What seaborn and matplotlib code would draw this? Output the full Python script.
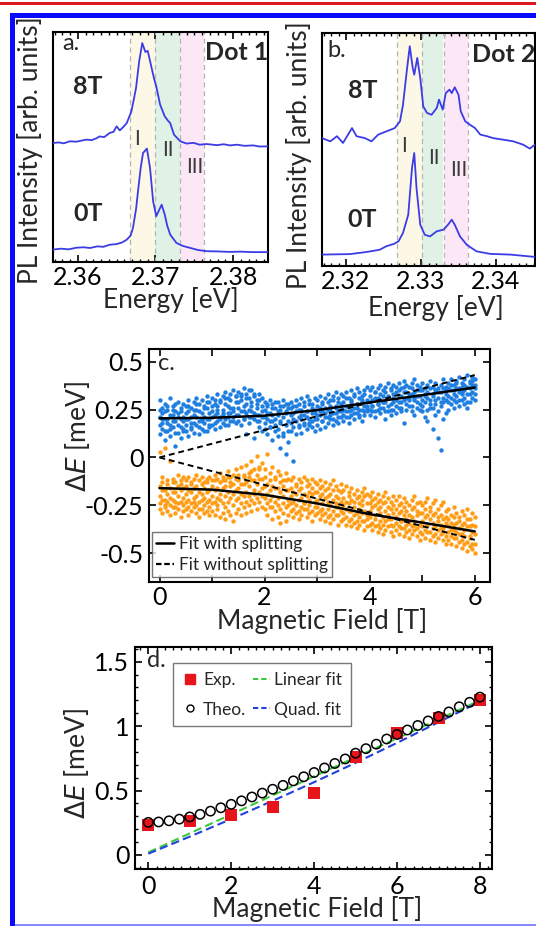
import numpy as np
import pandas as pd
import matplotlib
matplotlib.use("Agg")
import matplotlib.pyplot as plt
import seaborn as sns
from matplotlib.patches import Rectangle
from matplotlib.lines import Line2D
from matplotlib.ticker import MultipleLocator

# ---------------- data ----------------
# Panel a (Dot 1) spectra
energy_a_8T = [2.3568, 2.3575, 2.3582, 2.3590, 2.3598, 2.3605, 2.3611, 2.3618, 2.3624, 2.3628,
               2.3634, 2.3641, 2.3646, 2.3650, 2.3654, 2.3658, 2.3663, 2.3669, 2.3672, 2.3675,
               2.3679, 2.3683, 2.3687, 2.3690, 2.3694, 2.3698, 2.3701, 2.3706, 2.3712, 2.3716,
               2.3719, 2.3724, 2.3732, 2.3740, 2.3749, 2.3757, 2.3766, 2.3779, 2.3788, 2.3796,
               2.3805, 2.3815, 2.3826, 2.3834, 2.3845]
intensity_a_8T = [0.517, 0.520, 0.516, 0.525, 0.523, 0.528, 0.532, 0.530, 0.538, 0.546,
                  0.543, 0.561, 0.566, 0.590, 0.572, 0.585, 0.604, 0.655, 0.705, 0.757,
                  0.872, 0.952, 0.913, 0.918, 0.860, 0.800, 0.764, 0.684, 0.633, 0.615,
                  0.604, 0.553, 0.525, 0.515, 0.518, 0.510, 0.513, 0.508, 0.512, 0.507,
                  0.510, 0.505, 0.507, 0.502, 0.503]
energy_a_0T = [2.3568, 2.3578, 2.3588, 2.3598, 2.3607, 2.3616, 2.3625, 2.3633, 2.3641, 2.3650,
               2.3657, 2.3663, 2.3668, 2.3671, 2.3675, 2.3678, 2.3681, 2.3684, 2.3689, 2.3693,
               2.3697, 2.3701, 2.3705, 2.3708, 2.3712, 2.3715, 2.3719, 2.3727, 2.3735, 2.3745,
               2.3755, 2.3766, 2.3780, 2.3795, 2.3810, 2.3825, 2.3845]
intensity_a_0T = [0.054, 0.058, 0.055, 0.062, 0.064, 0.061, 0.068, 0.066, 0.075, 0.078,
                  0.085, 0.097, 0.115, 0.148, 0.230, 0.322, 0.410, 0.474, 0.493, 0.409,
                  0.264, 0.199, 0.228, 0.249, 0.206, 0.160, 0.119, 0.083, 0.070, 0.061,
                  0.052, 0.047, 0.046, 0.044, 0.045, 0.043, 0.043]

# Panel b (Dot 2) spectra
energy_b_8T = [2.3168, 2.3179, 2.3188, 2.3196, 2.3208, 2.3214, 2.3225, 2.3234, 2.3243, 2.3254,
               2.3265, 2.3272, 2.3276, 2.3281, 2.3285, 2.3289, 2.3291, 2.3295, 2.3299, 2.3303,
               2.3308, 2.3314, 2.3321, 2.3324, 2.3329, 2.3333, 2.3338, 2.3341, 2.3345, 2.3350,
               2.3353, 2.3359, 2.3365, 2.3372, 2.3379, 2.3388, 2.3396, 2.3410, 2.3423, 2.3436,
               2.3445, 2.3452]
intensity_b_8T = [0.549, 0.535, 0.557, 0.528, 0.592, 0.557, 0.549, 0.535, 0.564, 0.578,
                  0.592, 0.621, 0.692, 0.836, 0.943, 0.850, 0.821, 0.893, 0.807, 0.685,
                  0.657, 0.649, 0.678, 0.714, 0.671, 0.742, 0.757, 0.742, 0.767, 0.735,
                  0.664, 0.621, 0.607, 0.592, 0.564, 0.557, 0.549, 0.542, 0.535, 0.521,
                  0.504, 0.521]
energy_b_0T = [2.3168, 2.3185, 2.3205, 2.3220, 2.3233, 2.3245, 2.3254, 2.3264, 2.3270, 2.3276,
               2.3283, 2.3288, 2.3291, 2.3294, 2.3299, 2.3305, 2.3312, 2.3321, 2.3330, 2.3336,
               2.3341, 2.3345, 2.3352, 2.3361, 2.3374, 2.3392, 2.3419, 2.3452]
intensity_b_0T = [0.049, 0.050, 0.051, 0.057, 0.063, 0.070, 0.085, 0.095, 0.106, 0.142,
                  0.220, 0.421, 0.485, 0.335, 0.177, 0.134, 0.127, 0.149, 0.156, 0.177,
                  0.199, 0.177, 0.127, 0.091, 0.063, 0.052, 0.049, 0.039]

band_edges_a = [2.3667, 2.3700, 2.3731, 2.3763]
band_edges_b = [2.3268, 2.3301, 2.3330, 2.3363]
band_names = ["I", "II", "III"]
ticks_a = [2.36, 2.37, 2.38]
ticks_b = [2.32, 2.33, 2.34]

# Panel c: measured energy shifts vs field (field sweep 0..6 T, step 0.05 T)
field_c = np.linspace(0, 6, 121)
blue_mid = [0.21, 0.18, 0.24, 0.2, 0.17, 0.22, 0.19, 0.23, 0.16, 0.21,
            0.2, 0.24, 0.18, 0.22, 0.25, 0.19, 0.23, 0.21, 0.26, 0.2,
            0.24, 0.22, 0.27, 0.21, 0.25, 0.28, 0.23, 0.26, 0.24, 0.29,
            0.26, 0.3, 0.24, 0.28, 0.25, 0.27, 0.23, 0.26, 0.22, 0.24,
            0.21, 0.23, 0.19, 0.22, 0.2, 0.24, 0.18, 0.21, 0.23, 0.19,
            0.22, 0.2, 0.24, 0.21, 0.25, 0.22, 0.24, 0.2, 0.23, 0.25,
            0.22, 0.26, 0.24, 0.21, 0.25, 0.27, 0.23, 0.26, 0.24, 0.28,
            0.25, 0.27, 0.24, 0.29, 0.26, 0.28, 0.25, 0.3, 0.27, 0.26,
            0.29, 0.27, 0.31, 0.28, 0.3, 0.32, 0.29, 0.31, 0.28, 0.33,
            0.3, 0.32, 0.29, 0.34, 0.31, 0.3, 0.33, 0.31, 0.35, 0.32,
            0.3, 0.33, 0.31, 0.28, 0.32, 0.3, 0.34, 0.29, 0.31, 0.33,
            0.32, 0.35, 0.33, 0.36, 0.34, 0.37, 0.35, 0.33, 0.36, 0.38,
            0.36]
blue_high = [0.3, 0.26, 0.28, 0.25, 0.31, 0.27, 0.24, 0.29, 0.26, 0.28,
             0.27, 0.3, 0.26, 0.29, 0.31, 0.28, 0.3, 0.27, 0.32, 0.29,
             0.31, 0.28, 0.33, 0.3, 0.32, 0.34, 0.31, 0.33, 0.35, 0.32,
             0.34, 0.32, 0.36, 0.33, 0.31, 0.35, 0.32, 0.3, 0.33, 0.31,
             0.29, 0.27, 0.3, 0.28, 0.26, 0.29, 0.27, 0.3, 0.28, 0.26,
             0.29, 0.27, 0.3, 0.28, 0.31, 0.29, 0.32, 0.3, 0.28, 0.31,
             0.3, 0.32, 0.29, 0.31, 0.33, 0.3, 0.32, 0.34, 0.31, 0.33,
             0.32, 0.34, 0.31, 0.35, 0.33, 0.36, 0.34, 0.32, 0.35, 0.37,
             0.35, 0.37, 0.34, 0.36, 0.38, 0.35, 0.37, 0.39, 0.36, 0.38,
             0.37, 0.39, 0.36, 0.4, 0.38, 0.37, 0.39, 0.41, 0.38, 0.37,
             0.39, 0.36, 0.38, 0.4, 0.37, 0.39, 0.36, 0.38, 0.41, 0.37,
             0.39, 0.41, 0.38, 0.4, 0.42, 0.39, 0.41, 0.43, 0.4, 0.42,
             0.41]
blue_midhigh = [0.25, 0.23, 0.2, 0.27, 0.22, 0.25, 0.28, 0.21, 0.24, 0.19,
                0.23, 0.27, 0.21, 0.25, 0.28, 0.24, 0.2, 0.26, 0.29, 0.23,
                0.27, 0.3, 0.25, 0.29, 0.23, 0.31, 0.27, 0.3, 0.26, 0.32,
                0.29, 0.33, 0.27, 0.31, 0.35, 0.29, 0.33, 0.28, 0.3, 0.27,
                0.25, 0.28, 0.23, 0.26, 0.29, 0.22, 0.25, 0.27, 0.24, 0.28,
                0.26, 0.23, 0.27, 0.25, 0.22, 0.27, 0.24, 0.28, 0.26, 0.23,
                0.27, 0.24, 0.28, 0.26, 0.29, 0.25, 0.3, 0.27, 0.29, 0.26,
                0.29, 0.31, 0.27, 0.3, 0.32, 0.28, 0.31, 0.29, 0.33, 0.3,
                0.32, 0.3, 0.34, 0.31, 0.33, 0.29, 0.34, 0.32, 0.35, 0.31,
                0.34, 0.35, 0.32, 0.37, 0.34, 0.33, 0.36, 0.34, 0.32, 0.35,
                0.35, 0.32, 0.34, 0.36, 0.33, 0.35, 0.31, 0.34, 0.36, 0.35,
                0.36, 0.38, 0.35, 0.39, 0.36, 0.34, 0.38, 0.37, 0.39, 0.4,
                0.38]
blue_midlow = [0.17, 0.2, 0.14, 0.18, 0.15, 0.19, 0.13, 0.17, 0.2, 0.14,
               0.17, 0.2, 0.15, 0.18, 0.21, 0.16, 0.19, 0.14, 0.2, 0.17,
               0.21, 0.18, 0.23, 0.2, 0.22, 0.17, 0.21, 0.23, 0.19, 0.22,
               0.22, 0.24, 0.2, 0.23, 0.21, 0.24, 0.2, 0.22, 0.19, 0.21,
               0.18, 0.2, 0.16, 0.19, 0.17, 0.15, 0.19, 0.11, 0.17, 0.14,
               0.18, 0.16, 0.19, 0.17, 0.2, 0.18, 0.21, 0.17, 0.19, 0.2,
               0.2, 0.22, 0.19, 0.23, 0.21, 0.22, 0.2, 0.23, 0.21, 0.24,
               0.22, 0.24, 0.21, 0.25, 0.23, 0.26, 0.22, 0.25, 0.24, 0.27,
               0.25, 0.27, 0.24, 0.28, 0.26, 0.29, 0.24, 0.27, 0.25, 0.29,
               0.27, 0.29, 0.26, 0.3, 0.28, 0.31, 0.27, 0.3, 0.29, 0.28,
               0.27, 0.29, 0.25, 0.3, 0.26, 0.28, 0.24, 0.27, 0.29, 0.3,
               0.29, 0.31, 0.3, 0.32, 0.3, 0.33, 0.31, 0.29, 0.33, 0.34,
               0.33]
blue_low = [0.12, 0.15, 0.09, 0.14, 0.11, 0.16, 0.06, 0.13, 0.1, 0.15,
            0.14, 0.11, 0.16, 0.13, 0.17, 0.12, 0.15, 0.18, 0.14, 0.16,
            0.17, 0.15, 0.19, 0.16, 0.18, 0.2, 0.17, 0.19, 0.21, 0.18,
            0.19, 0.17, 0.2, 0.12, 0.18, 0.21, 0.1, 0.19, 0.16, 0.14,
            0.15, 0.12, 0.16, 0.09, 0.14, 0.11, 0.05, 0.13, 0.02, 0.08,
            0.14, -0.02, 0.12, 0.16, 0.13, 0.17, 0.15, 0.18, 0.16, 0.14,
            0.17, 0.15, 0.19, 0.16, 0.18, 0.2, 0.17, 0.19, 0.18, 0.21,
            0.19, 0.21, 0.18, 0.22, 0.2, 0.23, 0.21, 0.19, 0.22, 0.24,
            0.22, 0.24, 0.21, 0.25, 0.23, 0.26, 0.2, 0.24, 0.22, 0.25,
            0.23, 0.26, 0.24, 0.18, 0.25, 0.27, 0.24, 0.22, 0.26, 0.25,
            0.24, 0.21, 0.19, 0.26, 0.15, 0.22, 0.1, 0.04, 0.2, 0.23,
            0.25, 0.28, 0.26, 0.29, 0.27, 0.3, 0.28, 0.26, 0.29, 0.31,
            0.3]
orange_mid = [-0.2, -0.17, -0.22, -0.19, -0.21, -0.18, -0.23, -0.2, -0.17, -0.21,
              -0.19, -0.22, -0.18, -0.21, -0.2, -0.23, -0.19, -0.21, -0.18, -0.22,
              -0.2, -0.17, -0.21, -0.19, -0.16, -0.2, -0.18, -0.15, -0.19, -0.17,
              -0.16, -0.19, -0.14, -0.18, -0.15, -0.12, -0.17, -0.14, -0.11, -0.16,
              -0.15, -0.19, -0.17, -0.2, -0.16, -0.21, -0.18, -0.2, -0.17, -0.22,
              -0.2, -0.23, -0.19, -0.22, -0.21, -0.24, -0.2, -0.22, -0.19, -0.23,
              -0.22, -0.2, -0.24, -0.21, -0.23, -0.25, -0.22, -0.24, -0.26, -0.23,
              -0.25, -0.27, -0.24, -0.28, -0.26, -0.29, -0.27, -0.25, -0.28, -0.3,
              -0.28, -0.26, -0.3, -0.27, -0.29, -0.31, -0.28, -0.3, -0.32, -0.29,
              -0.31, -0.29, -0.33, -0.3, -0.32, -0.34, -0.31, -0.33, -0.3, -0.35,
              -0.33, -0.31, -0.35, -0.32, -0.34, -0.36, -0.33, -0.35, -0.37, -0.34,
              -0.36, -0.38, -0.35, -0.39, -0.37, -0.4, -0.38, -0.36, -0.41, -0.39,
              -0.4]
orange_high = [0.03, -0.1, 0.05, -0.12, -0.02, -0.11, -0.13, -0.09, -0.12, -0.1,
               -0.12, -0.1, -0.13, -0.11, -0.09, -0.12, -0.1, -0.13, -0.11, -0.1,
               -0.12, -0.09, -0.11, -0.08, -0.1, -0.12, -0.07, -0.1, -0.09, -0.06,
               -0.09, -0.05, -0.1, -0.04, -0.08, -0.02, -0.06, 0.01, -0.05, -0.03,
               -0.06, 0.02, -0.08, -0.05, -0.1, -0.07, -0.09, -0.12, -0.08, -0.11,
               -0.12, -0.1, -0.14, -0.11, -0.13, -0.1, -0.12, -0.14, -0.11, -0.13,
               -0.14, -0.12, -0.15, -0.13, -0.16, -0.14, -0.12, -0.15, -0.17, -0.14,
               -0.17, -0.15, -0.18, -0.16, -0.19, -0.17, -0.2, -0.18, -0.16, -0.19,
               -0.2, -0.18, -0.21, -0.19, -0.22, -0.2, -0.18, -0.21, -0.23, -0.2,
               -0.22, -0.2, -0.24, -0.21, -0.23, -0.25, -0.22, -0.2, -0.24, -0.23,
               -0.25, -0.23, -0.21, -0.26, -0.24, -0.22, -0.27, -0.25, -0.23, -0.28,
               -0.27, -0.3, -0.26, -0.29, -0.31, -0.28, -0.3, -0.27, -0.32, -0.29,
               -0.31]
orange_midhigh = [-0.15, -0.13, -0.17, -0.14, -0.16, -0.13, -0.18, -0.15, -0.14, -0.16,
                  -0.15, -0.17, -0.14, -0.16, -0.15, -0.18, -0.14, -0.16, -0.13, -0.17,
                  -0.15, -0.12, -0.16, -0.13, -0.12, -0.15, -0.1, -0.13, -0.14, -0.11,
                  -0.12, -0.14, -0.09, -0.13, -0.1, -0.07, -0.12, -0.09, -0.06, -0.11,
                  -0.1, -0.14, -0.12, -0.15, -0.11, -0.16, -0.13, -0.15, -0.12, -0.17,
                  -0.16, -0.18, -0.15, -0.17, -0.16, -0.19, -0.15, -0.18, -0.16, -0.18,
                  -0.18, -0.16, -0.19, -0.17, -0.2, -0.19, -0.17, -0.2, -0.21, -0.18,
                  -0.21, -0.23, -0.2, -0.22, -0.23, -0.21, -0.24, -0.22, -0.2, -0.24,
                  -0.24, -0.22, -0.25, -0.23, -0.26, -0.24, -0.23, -0.26, -0.27, -0.25,
                  -0.27, -0.25, -0.28, -0.26, -0.28, -0.3, -0.27, -0.26, -0.28, -0.29,
                  -0.29, -0.27, -0.3, -0.28, -0.3, -0.29, -0.31, -0.3, -0.32, -0.31,
                  -0.32, -0.34, -0.31, -0.34, -0.33, -0.35, -0.34, -0.32, -0.36, -0.35,
                  -0.36]
orange_midlow = [-0.24, -0.22, -0.26, -0.23, -0.25, -0.22, -0.26, -0.24, -0.23, -0.25,
                 -0.23, -0.26, -0.24, -0.23, -0.25, -0.27, -0.22, -0.25, -0.23, -0.26,
                 -0.24, -0.23, -0.25, -0.22, -0.24, -0.26, -0.23, -0.21, -0.25, -0.22,
                 -0.21, -0.24, -0.2, -0.23, -0.2, -0.22, -0.19, -0.21, -0.18, -0.2,
                 -0.21, -0.24, -0.22, -0.26, -0.23, -0.25, -0.27, -0.24, -0.26, -0.25,
                 -0.24, -0.27, -0.25, -0.28, -0.26, -0.24, -0.27, -0.25, -0.28, -0.26,
                 -0.26, -0.28, -0.27, -0.29, -0.27, -0.3, -0.28, -0.26, -0.3, -0.28,
                 -0.29, -0.31, -0.28, -0.32, -0.3, -0.33, -0.31, -0.29, -0.33, -0.32,
                 -0.31, -0.34, -0.32, -0.35, -0.33, -0.35, -0.33, -0.32, -0.35, -0.36,
                 -0.34, -0.36, -0.33, -0.37, -0.35, -0.38, -0.36, -0.35, -0.37, -0.39,
                 -0.36, -0.38, -0.35, -0.39, -0.37, -0.4, -0.38, -0.37, -0.39, -0.41,
                 -0.39, -0.41, -0.38, -0.42, -0.4, -0.43, -0.41, -0.44, -0.42, -0.45,
                 -0.45]
orange_low = [-0.27, -0.29, -0.25, -0.28, -0.3, -0.26, -0.29, -0.27, -0.31, -0.28,
              -0.27, -0.3, -0.28, -0.26, -0.29, -0.31, -0.27, -0.29, -0.28, -0.3,
              -0.28, -0.3, -0.27, -0.31, -0.29, -0.32, -0.28, -0.3, -0.33, -0.29,
              -0.27, -0.3, -0.26, -0.29, -0.25, -0.28, -0.24, -0.27, -0.23, -0.26,
              -0.27, -0.3, -0.26, -0.32, -0.28, -0.31, -0.34, -0.29, -0.33, -0.3,
              -0.28, -0.31, -0.29, -0.32, -0.3, -0.27, -0.31, -0.29, -0.33, -0.3,
              -0.29, -0.32, -0.3, -0.33, -0.31, -0.34, -0.32, -0.3, -0.35, -0.33,
              -0.32, -0.35, -0.33, -0.36, -0.34, -0.37, -0.35, -0.33, -0.38, -0.36,
              -0.35, -0.38, -0.36, -0.39, -0.37, -0.4, -0.38, -0.36, -0.39, -0.41,
              -0.38, -0.4, -0.37, -0.41, -0.39, -0.42, -0.4, -0.38, -0.41, -0.43,
              -0.4, -0.42, -0.39, -0.43, -0.41, -0.44, -0.42, -0.4, -0.43, -0.45,
              -0.43, -0.45, -0.42, -0.46, -0.44, -0.47, -0.45, -0.49, -0.46, -0.48,
              -0.5]
fit_field_c = [0, 1, 2, 3, 4, 5, 6]
fit_split_up = [0.204, 0.207, 0.218, 0.247, 0.287, 0.325, 0.365]
fit_split_down = [-0.160, -0.168, -0.195, -0.240, -0.296, -0.340, -0.386]
fit_nosplit_field = [0, 6]
fit_nosplit_up = [0.0, 0.43]
fit_nosplit_down = [0.0, -0.43]

# Panel d: splitting vs field
field_exp = [0, 1, 2, 3, 4, 5, 6, 7, 8]
split_exp = [0.23, 0.26, 0.31, 0.37, 0.48, 0.76, 0.95, 1.06, 1.20]
field_theo = [0, 0.25, 0.5, 0.75, 1, 1.25, 1.5, 1.75, 2, 2.25, 2.5, 2.75, 3, 3.25, 3.5, 3.75,
              4, 4.25, 4.5, 4.75, 5, 5.25, 5.5, 5.75, 6, 6.25, 6.5, 6.75, 7, 7.25, 7.5, 7.75, 8]
split_theo = [0.253, 0.256, 0.265, 0.278, 0.295, 0.315, 0.34, 0.366, 0.393, 0.42, 0.45,
              0.48, 0.51, 0.54, 0.575, 0.607, 0.64, 0.675, 0.71, 0.745, 0.79, 0.825, 0.86,
              0.9, 0.935, 0.97, 1.005, 1.04, 1.075, 1.11, 1.15, 1.185, 1.225]
fit_lin_field = [0, 8]
fit_lin = [0.02, 1.20]
fit_quad_field = [0, 1, 2, 3, 4, 5, 6, 7, 8]
fit_quad = [0.01, 0.142, 0.279, 0.42, 0.565, 0.715, 0.87, 1.03, 1.19]

# ---------------- style ----------------
sns.set_theme(style="ticks")
plt.rcParams['font.family'] = ['Lato', 'DejaVu Sans']
plt.rcParams['mathtext.fontset'] = 'dejavusans'
plt.rcParams['axes.unicode_minus'] = False
plt.rcParams['axes.linewidth'] = 1.5
plt.rcParams['axes.edgecolor'] = 'black'

W, H = 536, 926
fig = plt.figure(figsize=(W / 100, H / 100), dpi=100)
fig.patch.set_facecolor('white')


def px_axes(x0, y0, x1, y1):
    return fig.add_axes([x0 / W, 1 - y1 / H, (x1 - x0) / W, (y1 - y0) / H])


def px_rect(x0, y0, x1, y1, color):
    fig.add_artist(Rectangle((x0 / W, 1 - y1 / H), (x1 - x0) / W, (y1 - y0) / H,
                             transform=fig.transFigure, color=color, lw=0))


TICK_FS = 18
LABEL_FS = 19
SPEC_COLOR = '#3c3ce6'
band_colors = ['#fdf8e6', '#e0f1e6', '#fbe7f6']

# frame decorations
px_rect(0, 2.5, W, 4.5, '#e01820')
px_rect(10, 13, W, 18, '#0a0aff')
px_rect(10, 13, 15, H, '#0a0aff')
px_rect(15, 924, W, H, '#8a8aff')


def style_common(ax):
    ax.tick_params(which='both', direction='in', top=True, right=True, colors='black')
    for s in ax.spines.values():
        s.set_linewidth(1.5)
        s.set_color('black')


def spectrum_panel(ax, e8, i8, e0, i0, edges, ticks, xlim, letter, dot, pos):
    for k in range(3):
        ax.axvspan(edges[k], edges[k + 1], color=band_colors[k], lw=0, zorder=0)
    for e in edges:
        ax.axvline(e, color='#b4b4b4', lw=0.9, ls=(0, (4, 3)), zorder=1)
    sns.lineplot(x=e8, y=i8, ax=ax, color=SPEC_COLOR, lw=1.3, estimator=None, sort=False, zorder=3)
    sns.lineplot(x=e0, y=i0, ax=ax, color=SPEC_COLOR, lw=1.3, estimator=None, sort=False, zorder=3)
    ax.set_xlim(*xlim)
    ax.set_ylim(0, 1)
    ax.set_xticks(ticks)
    ax.set_xticklabels([f"{t:.2f}" for t in ticks], fontsize=TICK_FS)
    ax.xaxis.set_minor_locator(MultipleLocator(0.001))
    ax.set_yticks([])
    style_common(ax)
    ax.tick_params(which='major', length=5, width=1.2, pad=3)
    ax.tick_params(which='minor', length=2, width=1.0)
    ax.set_xlabel('Energy [eV]', fontsize=LABEL_FS)
    ax.set_ylabel('PL Intensity [arb. units]', fontsize=LABEL_FS)
    ax.xaxis.set_label_coords(pos['xl'][0], pos['xl'][1])
    ax.xaxis.label.set_va('center')
    ax.yaxis.set_label_coords(pos['yl'][0], pos['yl'][1])
    ax.yaxis.label.set_va('center')
    ax.text(pos['letter'][0], pos['letter'][1], letter, transform=ax.transAxes,
            fontsize=17, ha='left', va='center')
    ax.text(1.0, pos['dot'][1], dot, transform=ax.transAxes, fontsize=18,
            fontweight='bold', ha='right', va='center')
    ax.text(pos['t8'][0], pos['t8'][1], '8T', transform=ax.transAxes, fontsize=18,
            fontweight='bold', ha='center', va='center')
    ax.text(pos['t0'][0], pos['t0'][1], '0T', transform=ax.transAxes, fontsize=18,
            fontweight='bold', ha='center', va='center')
    for name, (tx, ty) in zip(band_names, pos['roman']):
        ax.text(tx, ty, name, transform=ax.transAxes, fontsize=15, color='#3a3a3a',
                ha='center', va='center')


# ---------------- panel a ----------------
ax_a = px_axes(53, 32, 268, 262)
spectrum_panel(ax_a, energy_a_8T, intensity_a_8T, energy_a_0T, intensity_a_0T,
               band_edges_a, ticks_a, (2.3568, 2.3845), 'a.', 'Dot 1',
               dict(xl=(0.549, -0.165), yl=(-0.107, 0.487), letter=(0.042, 0.952),
                    dot=(1.0, 0.91), t8=(0.163, 0.763), t0=(0.163, 0.209),
                    roman=[(0.393, 0.533), (0.535, 0.485), (0.658, 0.415)]))

# ---------------- panel b ----------------
ax_b = px_axes(322, 33, 535, 266)
spectrum_panel(ax_b, energy_b_8T, intensity_b_8T, energy_b_0T, intensity_b_0T,
               band_edges_b, ticks_b, (2.3168, 2.3452), 'b.', 'Dot 2',
               dict(xl=(0.535, -0.18), yl=(-0.108, 0.476), letter=(0.023, 0.923),
                    dot=(1.0, 0.906), t8=(0.19, 0.753), t0=(0.19, 0.2),
                    roman=[(0.387, 0.513), (0.526, 0.464), (0.641, 0.414)]))

# ---------------- panel c ----------------
ax_c = px_axes(149, 349, 490, 582)
blue_c = '#1f7fe0'
orange_c = '#ff9e16'
for ys in (blue_mid, blue_high, blue_midhigh, blue_midlow, blue_low):
    sns.scatterplot(x=field_c, y=ys, ax=ax_c, color=blue_c, s=10, linewidth=0, zorder=2)
for ys in (orange_mid, orange_high, orange_midhigh, orange_midlow, orange_low):
    sns.scatterplot(x=field_c, y=ys, ax=ax_c, color=orange_c, s=10, linewidth=0, zorder=2)
sns.lineplot(x=fit_field_c, y=fit_split_up, ax=ax_c, color='black', lw=1.8, zorder=4)
sns.lineplot(x=fit_field_c, y=fit_split_down, ax=ax_c, color='black', lw=1.8, zorder=4)
sns.lineplot(x=fit_nosplit_field, y=fit_nosplit_up, ax=ax_c, color='black', lw=1.4,
             ls=(0, (3, 2)), zorder=4)
sns.lineplot(x=fit_nosplit_field, y=fit_nosplit_down, ax=ax_c, color='black', lw=1.4,
             ls=(0, (3, 2)), zorder=4)
ax_c.set_xlim(-0.2, 6.29)
ax_c.set_ylim(-0.65, 0.566)
ax_c.set_xticks([0, 2, 4, 6])
ax_c.set_xticklabels(['0', '2', '4', '6'], fontsize=TICK_FS)
ax_c.xaxis.set_minor_locator(MultipleLocator(1))
ax_c.set_yticks([-0.5, -0.25, 0, 0.25, 0.5])
ax_c.set_yticklabels(['-0.5', '-0.25', '0', '0.25', '0.5'], fontsize=TICK_FS)
style_common(ax_c)
ax_c.tick_params(which='major', length=5, width=1.2, pad=4)
ax_c.tick_params(which='minor', length=5, width=1.2)
ax_c.tick_params(axis='x', pad=3)
ax_c.set_xlabel('Magnetic Field [T]', fontsize=LABEL_FS)
ax_c.set_ylabel(r'$\Delta E$ [meV]', fontsize=LABEL_FS)
ax_c.xaxis.set_label_coords(0.507, -0.167)
ax_c.xaxis.label.set_va('center')
ax_c.yaxis.set_label_coords(-0.21, 0.622)
ax_c.yaxis.label.set_va('center')
ax_c.text(0.026, 0.936, 'c.', transform=ax_c.transAxes, fontsize=17, ha='left', va='center')
handles_c = [Line2D([], [], color='black', lw=1.8, label='Fit with splitting'),
             Line2D([], [], color='black', lw=1.6, ls=(0, (2.5, 1.2)), label='Fit without splitting')]
leg_c = ax_c.legend(handles=handles_c, loc='lower left', bbox_to_anchor=(0.009, 0.021),
                    fontsize=12.5, frameon=True, fancybox=False, edgecolor='#555555',
                    handlelength=1.0, handletextpad=0.3, labelspacing=0.25,
                    borderpad=0.25, borderaxespad=0)
leg_c.get_frame().set_linewidth(1.0)

# ---------------- panel d ----------------
ax_d = px_axes(135, 647, 492, 869)
sns.lineplot(x=fit_lin_field, y=fit_lin, ax=ax_d, color='#3cc83c', lw=1.5, ls=(0, (4, 2)), zorder=2)
sns.lineplot(x=fit_quad_field, y=fit_quad, ax=ax_d, color='#2040e0', lw=1.5, ls=(0, (4, 2)), zorder=2)
sns.scatterplot(x=field_exp, y=split_exp, ax=ax_d, color='#e8141c', marker='s', s=80,
                linewidth=0, zorder=3)
sns.scatterplot(x=field_theo, y=split_theo, ax=ax_d, facecolor='none', edgecolor='black',
                marker='o', s=45, linewidth=1.1, zorder=4)
ax_d.set_xlim(-0.32, 8.29)
ax_d.set_ylim(-0.109, 1.614)
ax_d.set_xticks([0, 2, 4, 6, 8])
ax_d.set_xticklabels(['0', '2', '4', '6', '8'], fontsize=TICK_FS)
ax_d.xaxis.set_minor_locator(MultipleLocator(0.2))
ax_d.set_yticks([0, 0.5, 1, 1.5])
ax_d.set_yticklabels(['0', '0.5', '1', '1.5'], fontsize=TICK_FS)
ax_d.yaxis.set_minor_locator(MultipleLocator(0.1))
style_common(ax_d)
ax_d.tick_params(which='major', length=5, width=1.2, pad=4)
ax_d.tick_params(which='minor', length=2, width=1.0)
ax_d.set_xlabel('Magnetic Field [T]', fontsize=LABEL_FS)
ax_d.set_ylabel(r'$\Delta E$ [meV]', fontsize=LABEL_FS)
ax_d.xaxis.set_label_coords(0.511, -0.18)
ax_d.xaxis.label.set_va('center')
ax_d.yaxis.set_label_coords(-0.164, 0.473)
ax_d.yaxis.label.set_va('center')
ax_d.text(0.034, 0.937, 'd.', transform=ax_d.transAxes, fontsize=17, ha='left', va='center')
handles_d = [Line2D([], [], color='#e8141c', marker='s', ls='none', markersize=7, label='Exp.'),
             Line2D([], [], color='black', marker='o', mfc='none', ls='none', markersize=5,
                    mew=1.0, label='Theo.'),
             Line2D([], [], color='#3cc83c', lw=1.5, ls=(0, (2.5, 1.5)), label='Linear fit'),
             Line2D([], [], color='#2040e0', lw=1.5, ls=(0, (2.5, 1.5)), label='Quad. fit')]
leg_d = ax_d.legend(handles=handles_d, ncol=2, loc='upper left', bbox_to_anchor=(0.106, 0.928),
                    fontsize=12.5, frameon=True, fancybox=False, edgecolor='#555555',
                    handlelength=1.0, handletextpad=0.25, labelspacing=0.8,
                    columnspacing=0.35, borderpad=0.5, borderaxespad=0)
leg_d.get_frame().set_linewidth(1.0)

fig.savefig('out.png', dpi=100)
